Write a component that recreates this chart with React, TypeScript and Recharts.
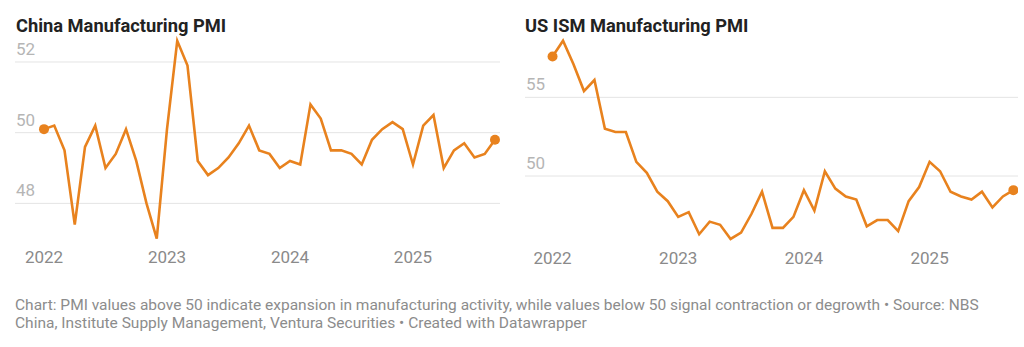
import { LineChart, Line, XAxis, YAxis, ReferenceLine } from "recharts";

// Monthly readings, Jan 2022 - Sep 2025
const months = [
  "2022-01", "2022-02", "2022-03", "2022-04", "2022-05", "2022-06",
  "2022-07", "2022-08", "2022-09", "2022-10", "2022-11", "2022-12",
  "2023-01", "2023-02", "2023-03", "2023-04", "2023-05", "2023-06",
  "2023-07", "2023-08", "2023-09", "2023-10", "2023-11", "2023-12",
  "2024-01", "2024-02", "2024-03", "2024-04", "2024-05", "2024-06",
  "2024-07", "2024-08", "2024-09", "2024-10", "2024-11", "2024-12",
  "2025-01", "2025-02", "2025-03", "2025-04", "2025-05", "2025-06",
  "2025-07", "2025-08", "2025-09",
];

const chinaPmi = [
  50.1, 50.2, 49.5, 47.4, 49.6, 50.2, 49.0, 49.4, 50.1, 49.2, 48.0, 47.0,
  50.1, 52.6, 51.9, 49.2, 48.8, 49.0, 49.3, 49.7, 50.2, 49.5, 49.4, 49.0,
  49.2, 49.1, 50.8, 50.4, 49.5, 49.5, 49.4, 49.1, 49.8, 50.1, 50.3, 50.1,
  49.1, 50.2, 50.5, 49.0, 49.5, 49.7, 49.3, 49.4, 49.8,
];

const usIsm = [
  57.6, 58.6, 57.1, 55.4, 56.1, 53.0, 52.8, 52.8, 50.9, 50.2, 49.0, 48.4,
  47.4, 47.7, 46.3, 47.1, 46.9, 46.0, 46.4, 47.6, 49.0, 46.7, 46.7, 47.4,
  49.1, 47.8, 50.3, 49.2, 48.7, 48.5, 46.8, 47.2, 47.2, 46.5, 48.4, 49.3,
  50.9, 50.3, 49.0, 48.7, 48.5, 49.0, 48.0, 48.7, 49.1,
];

const yearTicks = [0, 12, 24, 36]; // index of each January
const chinaTicks = [48, 50, 52];
const usTicks = [50, 55];

const data = months.map((month, i) => ({ i, month, china: chinaPmi[i], us: usIsm[i] }));

const ORANGE = "#e8821e";
const FONT = "Roboto, 'Noto Sans', sans-serif";

const EndDot = (props: any) => {
  const { cx, cy, index } = props;
  if (index !== 0 && index !== months.length - 1) return <g key={index} />;
  return <circle key={index} cx={cx} cy={cy} r={5} fill={ORANGE} />;
};

const XTick = (props: any) => {
  const { x, y, payload } = props;
  return (
    <text x={x} y={y + 17} fill="#8a8a8a" fontSize={17} fontFamily={FONT} textAnchor="middle">
      {months[payload.value].slice(0, 4)}
    </text>
  );
};

function Panel({ dataKey, domain, ticks, xDomain, width, margin }: any) {
  return (
    <LineChart width={width} height={280} data={data} margin={margin}>
      <XAxis
        type="number"
        dataKey="i"
        domain={xDomain}
        ticks={yearTicks}
        allowDataOverflow
        axisLine={false}
        tickLine={false}
        tickSize={0}
        tickMargin={0}
        height={30}
        tick={<XTick />}
      />
      <YAxis domain={domain} allowDataOverflow hide />
      {ticks.map((v: number) => (
        <ReferenceLine
          key={v}
          y={v}
          stroke="#e4e4e4"
          strokeWidth={1}
          label={(p: any) => (
            <text x={p.viewBox.x + 1} y={p.viewBox.y - 7} fill="#b5b5b5" fontSize={17} fontFamily={FONT}>
              {v}
            </text>
          )}
        />
      ))}
      <Line
        type="linear"
        dataKey={dataKey}
        stroke={ORANGE}
        strokeWidth={2.6}
        dot={<EndDot />}
        activeDot={false}
        isAnimationActive={false}
      />
    </LineChart>
  );
}

const titleStyle: any = {
  position: "absolute",
  top: 16.5,
  fontFamily: FONT,
  fontWeight: 700,
  fontSize: 18.3,
  lineHeight: "18px",
  color: "#222",
  whiteSpace: "nowrap",
};

export default function App() {
  return (
    <div style={{ position: "relative", width: 1024, height: 347, background: "#fff", overflow: "hidden" }}>
      <style>{`body{margin:0}`}</style>
      <div style={{ position: "absolute", left: 0, top: 0 }}>
        <Panel
          dataKey="china"
          domain={[46.8, 52.8]}
          ticks={chinaTicks}
          xDomain={[-2.83, 44.49]}
          width={510}
          margin={{ top: 33.7, right: 10, bottom: 4.2, left: 15 }}
        />
      </div>
      <div style={{ position: "absolute", left: 510, top: 0 }}>
        <Panel
          dataKey="us"
          domain={[45.5, 59]}
          ticks={usTicks}
          xDomain={[-2.63, 44.44]}
          width={514}
          margin={{ top: 34.4, right: 6, bottom: 3.2, left: 15 }}
        />
      </div>
      <div style={{ ...titleStyle, left: 16 }}>China Manufacturing PMI</div>
      <div style={{ ...titleStyle, left: 525 }}>US ISM Manufacturing PMI</div>
      <div
        style={{
          position: "absolute",
          left: 15,
          top: 297,
          fontFamily: FONT,
          fontSize: 15.5,
          lineHeight: "17.5px",
          color: "#8c8c8c",
          whiteSpace: "nowrap",
        }}
      >
        <div>
          Chart: PMI values above 50 indicate expansion in manufacturing activity, while values below 50 signal contraction or degrowth • Source: NBS
        </div>
        <div>China, Institute Supply Management, Ventura Securities • Created with Datawrapper</div>
      </div>
    </div>
  );
}
